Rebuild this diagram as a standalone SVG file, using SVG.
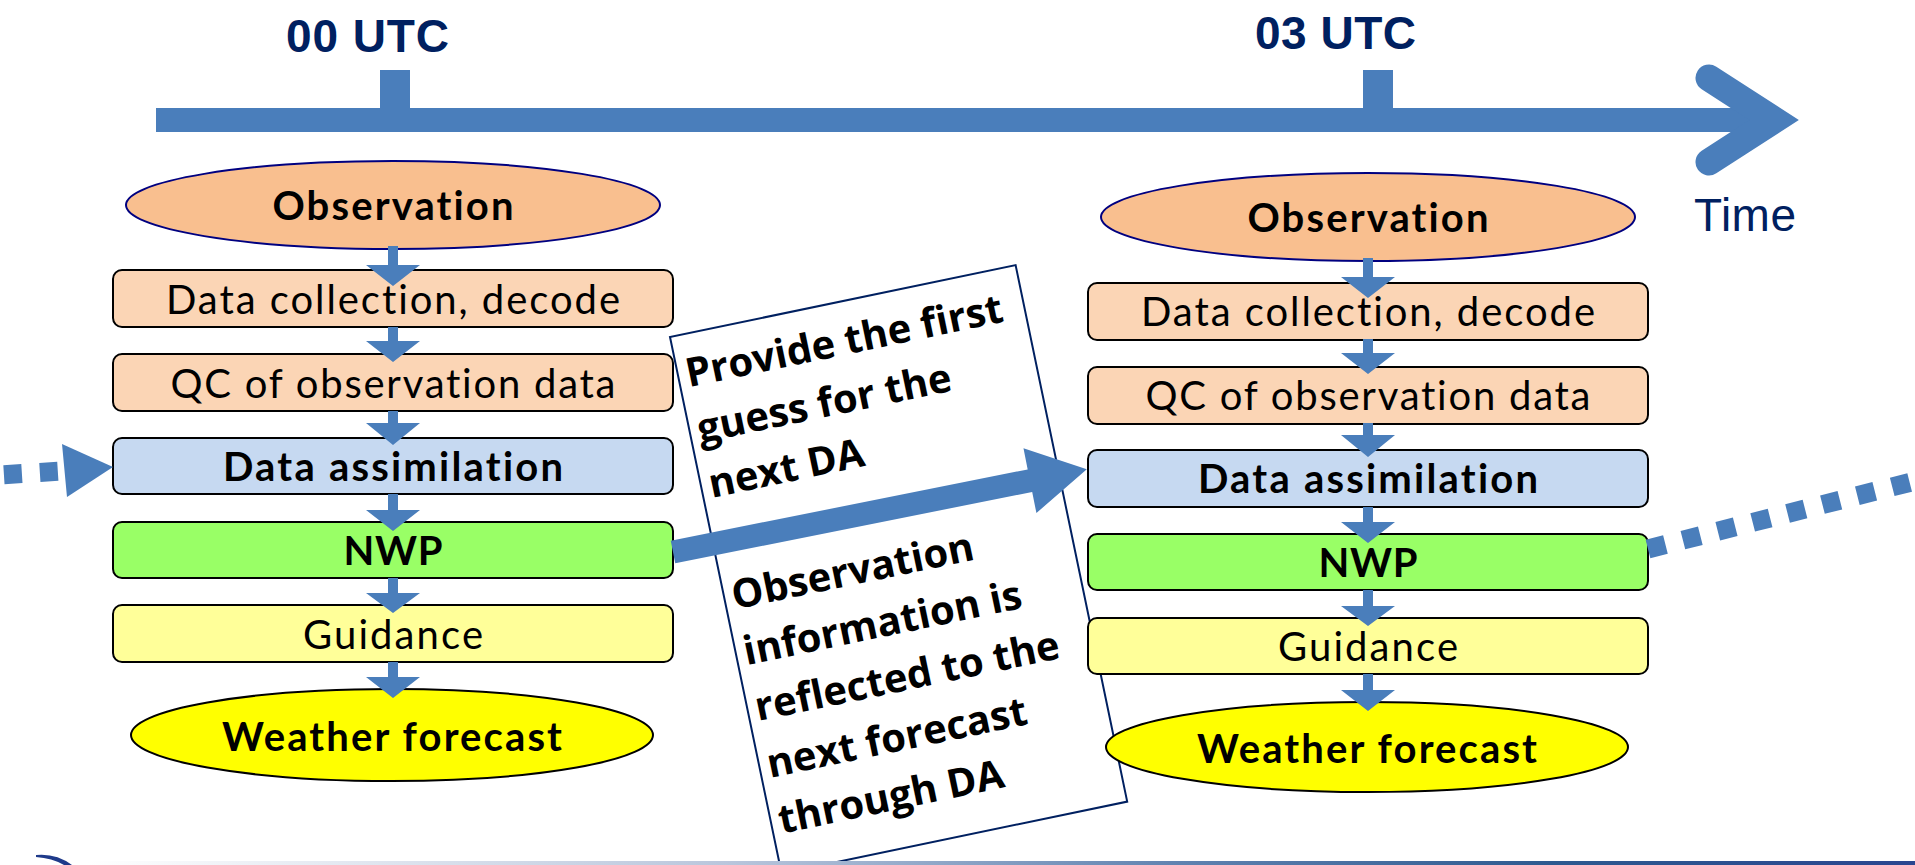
<svg xmlns="http://www.w3.org/2000/svg" width="1915" height="865" viewBox="0 0 1915 865">
<defs>
<linearGradient id="bottomGrad" x1="0" y1="0" x2="1" y2="0">
<stop offset="0" stop-color="#ffffff"/>
<stop offset="0.35" stop-color="#b9c6dc"/>
<stop offset="0.6" stop-color="#5f82b0"/>
<stop offset="0.8" stop-color="#2d5a90"/>
<stop offset="1" stop-color="#2a4690"/>
</linearGradient>
<style>
.box{stroke:#000;stroke-width:2}
.t{font-family:Lato,"Liberation Sans",sans-serif;font-size:40px;fill:#000;text-anchor:middle;font-variant-ligatures:none}
.b{font-weight:700}
.ann{font-family:"Open Sans","Liberation Sans",sans-serif;font-weight:700;font-size:40px;fill:#000;font-variant-ligatures:none}
.utc{font-family:"Liberation Sans",Arial,sans-serif;font-weight:700;font-size:46px;fill:#002060}
.time{font-family:"Liberation Sans",Arial,sans-serif;font-size:46px;fill:#002060}
.blue{fill:#4a7ebb}
.obs{fill:#f9bf8f;stroke:#000080;stroke-width:2}
.dc{fill:#fbd5b5}
.da{fill:#c6d9f1}
.nwp{fill:#99ff66}
.gd{fill:#ffff99}
.wf{fill:#ffff00;stroke:#000;stroke-width:2}
.dash{stroke:#4a7ebb;stroke-width:19;stroke-dasharray:18 18;fill:none}
</style>
</defs>
<rect width="1915" height="865" fill="#fff"/>

<g id="timeline">
<rect class="blue" x="156" y="108" width="1602" height="24"/>
<rect class="blue" x="380" y="70" width="30" height="40"/>
<rect class="blue" x="1363" y="70" width="30" height="40"/>
<polyline points="1709,78 1774,120 1709,162" fill="none" stroke="#4a7ebb" stroke-width="27" stroke-linecap="round" stroke-linejoin="miter"/>
<text class="utc" x="286" y="52" textLength="163">00 UTC</text>
<text class="utc" x="1255" y="49" textLength="161">03 UTC</text>
<text class="time" x="1694" y="231" textLength="102">Time</text>
</g>

<g id="annotation" transform="translate(670,337) rotate(-11.75)">
<rect x="0" y="0" width="353" height="548" fill="#fff" stroke="#002060" stroke-width="2"/>
<text class="ann" x="8" y="53">Provide the first</text>
<text class="ann" x="8" y="110">guess for the</text>
<text class="ann" x="8" y="166">next DA</text>
<text class="ann" x="8" y="280">Observation</text>
<text class="ann" x="8" y="337">information is</text>
<text class="ann" x="8" y="394">reflected to the</text>
<text class="ann" x="8" y="452">next forecast</text>
<text class="ann" x="8" y="509">through DA</text>
</g>

<g id="obs1"><ellipse class="obs" cx="393" cy="205" rx="267" ry="44"/><text class="t b" x="393" y="220" textLength="241">Observation</text></g>
<g id="dc1"><rect class="box dc" x="113" y="270" width="560" height="57" rx="9"/><text class="t" x="393" y="314" textLength="454">Data collection, decode</text></g>
<g id="qc1"><rect class="box dc" x="113" y="354" width="560" height="57" rx="9"/><text class="t" x="393" y="398" textLength="445">QC of observation data</text></g>
<g id="da1"><rect class="box da" x="113" y="438" width="560" height="56" rx="9"/><text class="t b" x="393" y="481" textLength="340">Data assimilation</text></g>
<g id="nwp1"><rect class="box nwp" x="113" y="522" width="560" height="56" rx="9"/><text class="t b" x="393" y="565" textLength="99">NWP</text></g>
<g id="gd1"><rect class="box gd" x="113" y="605" width="560" height="57" rx="9"/><text class="t" x="393" y="649" textLength="180">Guidance</text></g>
<g id="wf1"><ellipse class="wf" cx="392" cy="735" rx="261" ry="46"/><text class="t b" x="392" y="751" textLength="340">Weather forecast</text></g>

<g id="obs2"><ellipse class="obs" cx="1368" cy="217" rx="267" ry="44"/><text class="t b" x="1368" y="232" textLength="241">Observation</text></g>
<g id="dc2"><rect class="box dc" x="1088" y="283" width="560" height="57" rx="9"/><text class="t" x="1368" y="326" textLength="454">Data collection, decode</text></g>
<g id="qc2"><rect class="box dc" x="1088" y="367" width="560" height="57" rx="9"/><text class="t" x="1368" y="410" textLength="445">QC of observation data</text></g>
<g id="da2"><rect class="box da" x="1088" y="450" width="560" height="57" rx="9"/><text class="t b" x="1368" y="493" textLength="340">Data assimilation</text></g>
<g id="nwp2"><rect class="box nwp" x="1088" y="534" width="560" height="56" rx="9"/><text class="t b" x="1368" y="577" textLength="99">NWP</text></g>
<g id="gd2"><rect class="box gd" x="1088" y="618" width="560" height="56" rx="9"/><text class="t" x="1368" y="661" textLength="180">Guidance</text></g>
<g id="wf2"><ellipse class="wf" cx="1367" cy="747" rx="261" ry="45"/><text class="t b" x="1367" y="763" textLength="340">Weather forecast</text></g>

<g id="connectors">
<path class="blue" d="M388,246V265H366L393,286L420,265H398V246Z"/>
<path class="blue" d="M388,327V341H366L393,362L420,341H398V327Z"/>
<path class="blue" d="M388,411V423H366L393,445L420,423H398V411Z"/>
<path class="blue" d="M388,494V510H366L393,531L420,510H398V494Z"/>
<path class="blue" d="M388,578V593H366L393,613L420,593H398V578Z"/>
<path class="blue" d="M388,662V677H366L393,698L420,677H398V662Z"/>
<path class="blue" d="M1363,258V277H1341L1368,298L1395,277H1373V258Z"/>
<path class="blue" d="M1363,339V353H1341L1368,374L1395,353H1373V339Z"/>
<path class="blue" d="M1363,423V435H1341L1368,457L1395,435H1373V423Z"/>
<path class="blue" d="M1363,507V522H1341L1368,543L1395,522H1373V507Z"/>
<path class="blue" d="M1363,590V606H1341L1368,626L1395,606H1373V590Z"/>
<path class="blue" d="M1363,674V690H1341L1368,711L1395,690H1373V674Z"/>
<g transform="translate(673,552) rotate(-11.3)">
<polygon class="blue" points="0,-11.5 364,-11.5 364,-33 422,0 364,33 364,11.5 0,11.5"/>
</g>
<line class="dash" x1="-32" y1="477" x2="62" y2="471"/>
<polygon class="blue" points="62,444 67,497 113,467"/>
<line class="dash" x1="1648" y1="549" x2="1935" y2="476"/>
</g>

<g id="footer">
<rect x="88" y="861" width="1827" height="4" fill="url(#bottomGrad)"/>
<path d="M36,855 Q56,853 72,865 L64,865 Q52,858 36,857 Z" fill="#1f3a8a"/>
</g>
</svg>
